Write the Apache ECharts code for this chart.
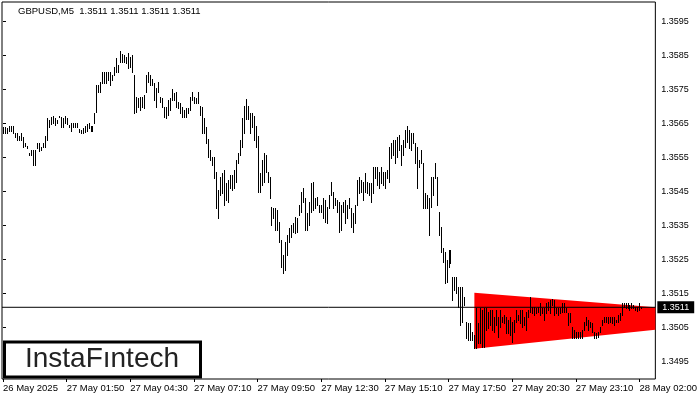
<!DOCTYPE html>
<html>
<head>
<meta charset="utf-8">
<script src="https://cdn.jsdelivr.net/npm/echarts@6/dist/echarts.min.js"></script>
<style>html,body{margin:0;padding:0;background:#fff}#c{width:700px;height:400px}</style>
</head>
<body>
<div id="c"></div>
<script>
// ---- data (GBPUSD M5, bar highs / lows) ----
const highs = [
1.35640,1.35640,1.35637,1.35643,1.35643,1.35643,1.35623,1.35623,1.35614,1.35623,
1.35611,1.35593,1.35584,1.35564,1.35573,1.35573,1.35573,1.35593,1.35593,1.35582,
1.35593,1.35614,1.35667,1.35661,1.35670,1.35673,1.35667,1.35661,1.35673,1.35670,
1.35667,1.35673,1.35667,1.35646,1.35652,1.35652,1.35652,1.35652,1.35634,1.35632,
1.35637,1.35643,1.35649,1.35652,1.35643,1.35643,1.35682,1.35764,1.35764,1.35773,
1.35802,1.35802,1.35802,1.35802,1.35802,1.35793,1.35817,1.35843,1.35823,1.35864,
1.35855,1.35852,1.35846,1.35858,1.35846,1.35852,1.35793,1.35729,1.35726,1.35729,
1.35729,1.35734,1.35793,1.35802,1.35793,1.35782,1.35770,1.35755,1.35773,1.35729,
1.35726,1.35699,1.35699,1.35720,1.35726,1.35752,1.35740,1.35743,1.35714,1.35711,
1.35699,1.35690,1.35696,1.35696,1.35729,1.35743,1.35729,1.35726,1.35743,1.35702,
1.35699,1.35667,1.35640,1.35605,1.35573,1.35552,1.35552,1.35508,1.35455,1.35493,
1.35505,1.35514,1.35476,1.35484,1.35499,1.35499,1.35514,1.35543,1.35564,1.35602,
1.35667,1.35702,1.35723,1.35702,1.35682,1.35682,1.35673,1.35643,1.35614,1.35505,
1.35543,1.35564,1.35558,1.35508,1.35493,1.35405,1.35402,1.35402,1.35396,1.35361,
1.35308,1.35264,1.35302,1.35323,1.35343,1.35352,1.35358,1.35376,1.35373,1.35411,
1.35449,1.35461,1.35432,1.35387,1.35420,1.35476,1.35479,1.35432,1.35434,1.35411,
1.35411,1.35432,1.35426,1.35405,1.35440,1.35479,1.35449,1.35432,1.35426,1.35420,
1.35411,1.35420,1.35426,1.35411,1.35432,1.35402,1.35387,1.35411,1.35484,1.35493,
1.35484,1.35479,1.35505,1.35479,1.35476,1.35476,1.35523,1.35523,1.35523,1.35508,
1.35523,1.35508,1.35508,1.35514,1.35582,1.35593,1.35602,1.35602,1.35611,1.35617,
1.35587,1.35602,1.35632,1.35643,1.35632,1.35623,1.35623,1.35593,1.35582,1.35543,
1.35573,1.35534,1.35446,1.35440,1.35432,1.35493,1.35493,1.35534,1.35493,1.35390,
1.35346,1.35284,1.35273,1.35249,1.35279,1.35279,1.35199,1.35199,1.35199,1.35170,
1.35170,1.35170,1.35140,1.35067,1.35064,1.35064,1.35037,1.35029,1.35108,1.35064,
1.35108,1.35102,1.35108,1.35108,1.35096,1.35102,1.35102,1.35081,1.35102,1.35081,
1.35102,1.35081,1.35087,1.35081,1.35073,1.35081,1.35067,1.35073,1.35102,1.35087,
1.35102,1.35102,1.35081,1.35096,1.35102,1.35140,1.35111,1.35111,1.35108,1.35111,
1.35123,1.35108,1.35108,1.35123,1.35126,1.35132,1.35134,1.35132,1.35108,1.35108,
1.35108,1.35123,1.35123,1.35108,1.35093,1.35093,1.35052,1.35043,1.35037,1.35037,
1.35037,1.35043,1.35067,1.35081,1.35073,1.35067,1.35064,1.35037,1.35035,1.35037,
1.35052,1.35073,1.35081,1.35081,1.35081,1.35081,1.35081,1.35081,1.35073,1.35087,
1.35093,1.35123,1.35123,1.35123,1.35123,1.35117,1.35123,1.35117,1.35111,1.35111,1.35123,1.35112
];
const lows = [
1.35623,1.35623,1.35623,1.35629,1.35629,1.35623,1.35611,1.35602,1.35602,1.35602,
1.35582,1.35584,1.35579,1.35558,1.35558,1.35529,1.35529,1.35579,1.35570,1.35573,
1.35582,1.35582,1.35602,1.35640,1.35649,1.35652,1.35646,1.35652,1.35670,1.35640,
1.35640,1.35652,1.35649,1.35640,1.35629,1.35640,1.35640,1.35640,1.35626,1.35623,
1.35623,1.35626,1.35629,1.35637,1.35629,1.35629,1.35652,1.35684,1.35743,1.35743,
1.35770,1.35770,1.35770,1.35779,1.35764,1.35779,1.35793,1.35802,1.35802,1.35831,
1.35831,1.35831,1.35829,1.35814,1.35817,1.35802,1.35682,1.35684,1.35699,1.35690,
1.35699,1.35696,1.35743,1.35773,1.35764,1.35764,1.35720,1.35699,1.35743,1.35714,
1.35699,1.35670,1.35667,1.35676,1.35690,1.35720,1.35720,1.35699,1.35696,1.35682,
1.35670,1.35670,1.35670,1.35682,1.35690,1.35720,1.35711,1.35711,1.35711,1.35676,
1.35623,1.35623,1.35593,1.35552,1.35543,1.35529,1.35490,1.35402,1.35373,1.35440,
1.35446,1.35411,1.35426,1.35420,1.35461,1.35455,1.35461,1.35479,1.35534,1.35558,
1.35582,1.35623,1.35664,1.35664,1.35623,1.35640,1.35602,1.35582,1.35449,1.35449,
1.35470,1.35479,1.35508,1.35479,1.35432,1.35352,1.35373,1.35337,1.35337,1.35302,
1.35229,1.35211,1.35220,1.35264,1.35302,1.35317,1.35332,1.35329,1.35332,1.35382,
1.35390,1.35420,1.35337,1.35337,1.35352,1.35390,1.35396,1.35402,1.35411,1.35390,
1.35390,1.35373,1.35361,1.35358,1.35402,1.35440,1.35402,1.35411,1.35390,1.35332,
1.35337,1.35390,1.35358,1.35373,1.35402,1.35346,1.35332,1.35358,1.35411,1.35446,
1.35449,1.35426,1.35449,1.35446,1.35440,1.35420,1.35446,1.35490,1.35470,1.35461,
1.35476,1.35470,1.35461,1.35490,1.35479,1.35549,1.35558,1.35534,1.35552,1.35573,
1.35529,1.35558,1.35582,1.35596,1.35579,1.35573,1.35593,1.35534,1.35461,1.35523,
1.35534,1.35402,1.35402,1.35402,1.35323,1.35405,1.35440,1.35490,1.35411,1.35323,
1.35273,1.35243,1.35182,1.35184,1.35229,1.35240,1.35132,1.35161,1.35152,1.35111,
1.35058,1.35067,1.35117,1.35020,1.35014,1.35014,1.35014,1.34990,1.34990,1.35005,
1.35005,1.34993,1.34993,1.35043,1.35049,1.35058,1.35043,1.35037,1.35058,1.35023,
1.35052,1.35067,1.35064,1.35035,1.35035,1.35029,1.35008,1.35037,1.35067,1.35073,
1.35064,1.35052,1.35058,1.35043,1.35081,1.35096,1.35093,1.35087,1.35093,1.35096,
1.35087,1.35093,1.35073,1.35093,1.35102,1.35093,1.35117,1.35087,1.35093,1.35087,
1.35093,1.35096,1.35096,1.35096,1.35058,1.35067,1.35020,1.35020,1.35020,1.35020,
1.35020,1.35020,1.35043,1.35058,1.35043,1.35052,1.35037,1.35020,1.35020,1.35023,
1.35037,1.35058,1.35067,1.35067,1.35064,1.35067,1.35064,1.35058,1.35067,1.35067,
1.35073,1.35087,1.35111,1.35108,1.35108,1.35102,1.35108,1.35108,1.35102,1.35099,1.35102,1.35108
];
const tickIndex = [0, 32, 64, 96, 128, 160, 192, 224, 256, 288, 320];
const tickLabels = ['26 May 2025','27 May 01:50','27 May 04:30','27 May 07:10','27 May 09:50',
  '27 May 12:30','27 May 15:10','27 May 17:50','27 May 20:30','27 May 23:10','28 May 02:00'];
const priceTicks = [1.3495,1.3505,1.3515,1.3525,1.3535,1.3545,1.3555,1.3565,1.3575,1.3585,1.3595];
const lastPrice = 1.3511;
const headerText = 'GBPUSD,M5  1.3511 1.3511 1.3511 1.3511';
// triangle pattern: [startIndex, endIndex], upper line [start, end], lower line [start, end]
const triIndex = [237, 328];
const triUpper = [1.35153, 1.35110];
const triLower = [1.34988, 1.35044];
const xRange = [-0.5, 328];

// ---- chart ----
const barData = highs.map((h, i) => [i, lows[i], h]);
const chart = echarts.init(document.getElementById('c'));
const F = '"Liberation Sans", Arial, sans-serif';
chart.setOption({
  animation: false,
  backgroundColor: '#fff',
  grid: {left: 2, right: 41, top: 2, bottom: 21, show: true, borderColor: '#000', borderWidth: 1, backgroundColor: '#fff'},
  xAxis: {
    type: 'value', min: xRange[0], max: xRange[1],
    axisLine: {show: false},
    splitLine: {show: false},
    axisTick: {show: true, customValues: tickIndex, length: 3, lineStyle: {color: '#000'}},
    axisLabel: {show: true, customValues: tickIndex, align: 'left', margin: 4, color: '#000',
      fontFamily: F, fontSize: 9.5, formatter: v => tickLabels[Math.round(v / 32)]}
  },
  yAxis: {
    type: 'value', position: 'right', min: 1.348991, max: 1.360079,
    axisLine: {show: false},
    splitLine: {show: false},
    axisTick: {show: true, customValues: priceTicks, length: 3, lineStyle: {color: '#000'}},
    axisLabel: {show: true, customValues: priceTicks, margin: 6, color: '#000',
      fontFamily: F, fontSize: 9, formatter: v => v.toFixed(4)}
  },
  graphic: [
    {type: 'text', x: 18, y: 11, style: {text: headerText, font: '9.5px ' + F, fill: '#000', verticalAlign: 'middle'}, z: 100},
    {type: 'rect', shape: {x: 4.5, y: 342, width: 196, height: 35}, style: {fill: '#fff', stroke: '#000', lineWidth: 3}, z: 100},
    {type: 'text', x: 102, y: 359, style: {text: 'InstaF\u0131ntech', font: '28px ' + F, fill: '#222', align: 'center', verticalAlign: 'middle'}, z: 101}
  ],
  series: [
    {
      type: 'custom', name: 'pattern', clip: true, z: 1,
      data: [[0]],
      renderItem: (params, api) => {
        const a = api.coord([triIndex[0], triUpper[0]]);
        const b = api.coord([triIndex[1], triUpper[1]]);
        const c = api.coord([triIndex[1], triLower[1]]);
        const d = api.coord([triIndex[0], triLower[0]]);
        return {type: 'polygon', shape: {points: [a, b, c, d]}, style: {fill: '#ff0000'}};
      }
    },
    {
      type: 'custom', name: 'bars', clip: true, z: 2,
      data: barData,
      renderItem: (params, api) => {
        const top = api.coord([api.value(0), api.value(2)]);
        const bot = api.coord([api.value(0), api.value(1)]);
        const y0 = Math.round(top[1]);
        const y1 = Math.round(bot[1]);
        return {type: 'rect', shape: {x: Math.round(top[0]), y: y0, width: 1, height: Math.max(1, y1 - y0 + 1)}, style: {fill: '#000'}};
      }
    },
    {
      type: 'line', name: 'last', z: 3, symbol: 'none', silent: true,
      data: [[xRange[0], lastPrice], [xRange[1], lastPrice]],
      lineStyle: {color: '#000', width: 1, type: 'solid'},
      endLabel: {show: true, distance: 2, formatter: lastPrice.toFixed(4),
        backgroundColor: '#000', color: '#fff', fontFamily: F, fontSize: 9, padding: [2, 5, 1, 5]}
    }
  ]
});
</script>
</body>
</html>
